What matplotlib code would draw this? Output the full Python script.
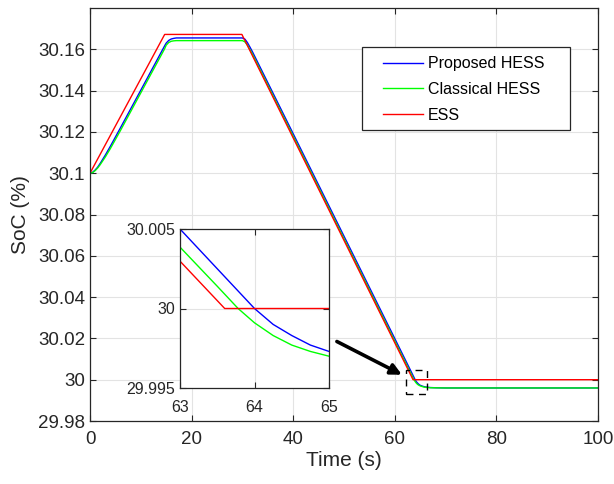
from __future__ import annotations

import matplotlib

matplotlib.use("Agg")
import matplotlib.pyplot as plt
from matplotlib.patches import Rectangle
from matplotlib.ticker import FuncFormatter

# ESS: piecewise linear SoC profile
t_ess = [0, 14.7, 29.9, 63.6, 100]
soc_ess = [30.1, 30.1672, 30.1672, 30.0, 30.0]

# Proposed HESS (denser near the corners)
t_prop = [0, 0.5, 1, 1.5, 2, 3, 4, 6, 10, 14, 14.7, 15, 15.5, 16, 16.5, 17, 20,
          30, 30.5, 31, 31.5, 32, 40, 50, 60, 63, 64, 64.25, 64.5, 64.75, 65,
          65.5, 66, 67, 68, 70, 100]
soc_prop = [30.1, 30.1004, 30.1015, 30.1029, 30.1047, 30.1087, 30.1130, 30.1220,
            30.1402, 30.1585, 30.1617, 30.1630, 30.1643, 30.1650, 30.1653, 30.1655,
            30.1655, 30.1655, 30.1649, 30.1632, 30.1610, 30.1587, 30.1191, 30.0695,
            30.0199, 30.0050, 30.0000, 29.9990, 29.9983, 29.9977, 29.9973, 29.9968,
            29.9965, 29.9962, 29.9961, 29.9960, 29.9960]

# Classical HESS
t_class = [0, 0.5, 1, 1.5, 2, 3, 4, 6, 10, 14, 14.7, 15, 15.5, 16, 16.5, 17, 20,
           30, 30.5, 31, 31.5, 32, 40, 50, 60, 63, 63.5, 63.78, 64, 64.25, 64.5,
           64.75, 65, 65.5, 66, 67, 70, 100]
soc_class = [30.1, 30.1003, 30.1012, 30.1025, 30.1041, 30.1078, 30.1119, 30.1207,
             30.1389, 30.1571, 30.1603, 30.1620, 30.1633, 30.1639, 30.1641, 30.1642,
             30.1642, 30.1642, 30.1636, 30.1620, 30.1598, 30.1575, 30.1179, 30.0683,
             30.0187, 30.00386, 30.0014, 30.0000, 29.9991, 29.9983, 29.9977, 29.9973,
             29.9970, 29.9966, 29.9963, 29.9961, 29.9960, 29.9960]

series = [
    ("Proposed HESS", t_prop, soc_prop, "#0000ff"),
    ("Classical HESS", t_class, soc_class, "#00ff00"),
    ("ESS", t_ess, soc_ess, "#ff0000"),
]

x_ticks = [0, 20, 40, 60, 80, 100]
y_ticks = [29.98, 30.0, 30.02, 30.04, 30.06, 30.08, 30.1, 30.12, 30.14, 30.16]
inset_x_ticks = [63, 64, 65]
inset_y_ticks = [29.995, 30.0, 30.005]

AX_COLOR = "#262626"
GRID_COLOR = "#e3e3e3"
W, H = 614, 484


def style_axes(ax, size):
    ax.tick_params(direction="in", length=4, width=0.8, colors=AX_COLOR,
                   labelcolor=AX_COLOR, labelsize=size, top=True, right=True)
    for s in ax.spines.values():
        s.set_color(AX_COLOR)
        s.set_linewidth(0.9)
    ax.grid(True, color=GRID_COLOR, linewidth=0.8)
    ax.set_axisbelow(True)
    fmt = FuncFormatter(lambda v, _: f"{v:g}")
    ax.xaxis.set_major_formatter(fmt)
    ax.yaxis.set_major_formatter(fmt)


def main() -> None:
    plt.rcParams["font.family"] = ["Liberation Sans", "DejaVu Sans"]

    fig = plt.figure(figsize=(W / 100, H / 100), dpi=100)
    ax = fig.add_axes([90 / W, 63 / H, 508 / W, 413 / H])
    for label, t, y, c in series:
        ax.plot(t, y, color=c, linewidth=1.0, label=label)
    ax.set_xlim(0, 100)
    ax.set_ylim(29.98, 30.18)
    ax.set_xticks(x_ticks)
    ax.set_yticks(y_ticks)
    style_axes(ax, 13.5)
    ax.tick_params(axis="x", pad=7)
    ax.set_xlabel("Time (s)", fontsize=15, color=AX_COLOR, labelpad=2)
    ax.set_ylabel("SoC (%)", fontsize=15, color=AX_COLOR, labelpad=6)

    # legend: MATLAB-like box drawn separately for its wide side padding
    ax.add_patch(Rectangle((362 / W, 1 - 130 / H), 208 / W, 83 / H,
                           transform=fig.transFigure, facecolor="white", clip_on=False,
                           edgecolor=AX_COLOR, linewidth=0.9, zorder=8))
    leg = ax.legend(loc="center left", bbox_to_anchor=(383 / W, 1 - 89.5 / H),
                    bbox_transform=fig.transFigure, borderaxespad=0, borderpad=0,
                    frameon=False, fontsize=11.5, handlelength=2.5,
                    handletextpad=0.3, labelspacing=0.68)
    leg.set_zorder(9)
    for txt in leg.get_texts():
        txt.set_color("black")

    # zoom region marker and arrow
    ax.add_patch(Rectangle((62.2, 29.9932), 4.1, 0.0116, fill=False, edgecolor="black",
                           linestyle=(0, (5, 4)), linewidth=1.0, zorder=5))
    ax.annotate("", xy=(61.4, 30.0024), xytext=(48.6, 30.0185),
                arrowprops=dict(arrowstyle="-|>", lw=2.6, color="black", mutation_scale=16,
                                shrinkA=0, shrinkB=0), zorder=6)

    ins = fig.add_axes([180 / W, 96 / H, 149 / W, 159 / H])
    for label, t, y, c in series:
        ins.plot(t, y, color=c, linewidth=1.0)
    ins.set_xlim(63, 65)
    ins.set_ylim(29.995, 30.005)
    ins.set_xticks(inset_x_ticks)
    ins.set_yticks(inset_y_ticks)
    style_axes(ins, 11.5)
    ins.tick_params(axis="x", pad=9)

    fig.savefig("out.png", dpi=100, facecolor="white")
    plt.close(fig)


if __name__ == "__main__":
    main()
